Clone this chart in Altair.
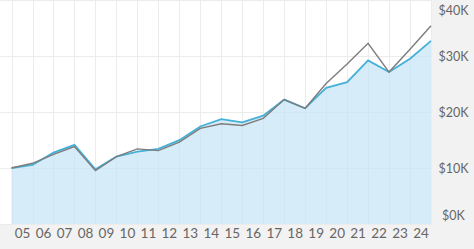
import altair as alt
import pandas as pd

years = list(range(2004, 2025))
fund = [10000, 10540, 12750, 14130, 9760, 12040, 12930, 13410, 14970, 17420,
        18740, 18140, 19340, 22220, 20660, 24310, 25330, 29220, 27130, 29520, 32700]
bench = [10000, 10840, 12450, 13830, 9520, 12040, 13410, 13110, 14610, 17070,
         17900, 17600, 18860, 22220, 20660, 25090, 28590, 32280, 27130, 31200, 35400]
y_ticks = [0, 10000, 20000, 30000, 40000]

df = pd.DataFrame({"year": years, "fund": fund, "bench": bench})

FONT = "Lato"
x_axis = alt.Axis(
    values=years, title=None, ticks=False, domain=False,
    labelExpr="datum.value >= 2024 ? '' : slice('0' + (datum.value + 1 - 2000), -2)",
    labelOffset=10.5, labelPadding=2, labelFontSize=13.5, labelFont=FONT,
    labelColor="#666666", labelOverlap=False, labelBaseline="top",
    grid=True, gridColor="#ececec", gridWidth=1,
)
x_scale = alt.Scale(domain=[2003.45, 2024], nice=False, zero=False)
y_axis = alt.Axis(
    values=y_ticks, orient="right", title=None, ticks=False, domain=False,
    labelExpr="'$' + (datum.value / 1000) + 'K'",
    labelAlign="center", labelPadding=22, labelFontSize=12.5, labelFont=FONT,
    labelColor="#666666", labelBaseline="middle", labelOverlap=False,
    labelOffset={"condition": [{"test": "datum.value >= 40000", "value": 10},
                               {"test": "datum.value <= 0", "value": -9}],
                 "value": 0},
    grid=True, gridColor="#ececec", gridWidth=1,
)
y_scale = alt.Scale(domain=[0, 40000], nice=False)


def xe():
    return alt.X("year:Q", scale=x_scale, axis=x_axis)


def ye(field):
    return alt.Y(f"{field}:Q", scale=y_scale, axis=y_axis)


area = alt.Chart(df).mark_area(color="#c4e4f5", opacity=0.7).encode(x=xe(), y=ye("fund"))
fund_line = alt.Chart(df).mark_line(color="#45b0d8", strokeWidth=1.8).encode(x=xe(), y=ye("fund"))
bench_line = alt.Chart(df).mark_line(color="#7d7d7d", strokeWidth=1.4).encode(x=xe(), y=ye("bench"))

chart = (
    alt.layer(area, fund_line, bench_line)
    .properties(
        width=431, height=224,
        autosize=alt.AutoSizeParams(type="none"),
        padding={"left": 0, "top": 0, "right": 43, "bottom": 25},
        background="#f2f2f2",
    )
    .configure_view(fill="white", stroke=None)
    .configure_axis(labelOverlap=False)
)

chart.save("out.html", embed_options={"renderer": "svg", "actions": False})
